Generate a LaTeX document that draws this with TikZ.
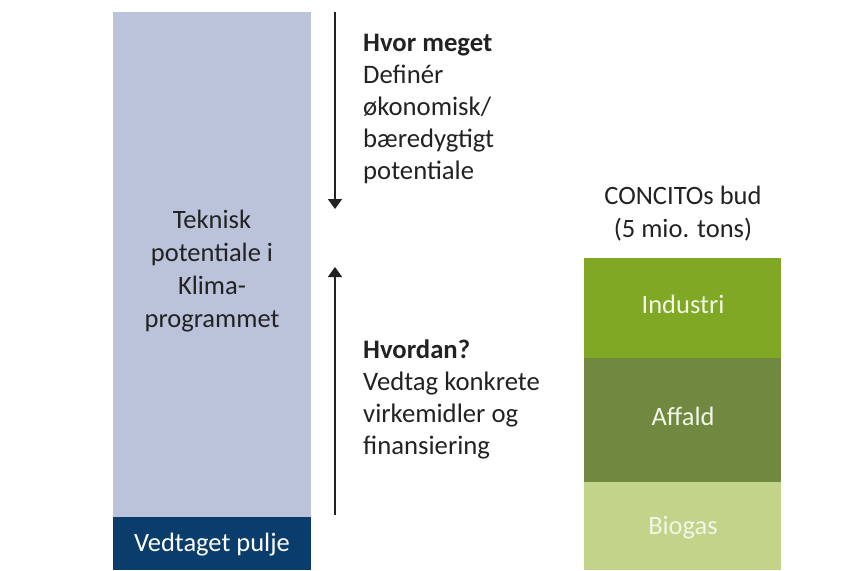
\documentclass[tikz,border=0pt]{standalone}
\usepackage{fontspec}
\setmainfont{Carlito}
\usetikzlibrary{arrows.meta}
\definecolor{lightblue}{HTML}{BAC3DA}
\definecolor{navy}{HTML}{0B3D6C}
\definecolor{indgreen}{HTML}{80A824}
\definecolor{affgreen}{HTML}{70883F}
\definecolor{biogreen}{HTML}{C1D48A}
\definecolor{txt}{HTML}{222222}
\definecolor{paletxt}{HTML}{F2F6E6}
\tikzset{
  bar/.style={inner sep=0pt, outer sep=0pt, anchor=north west},
  lbl/.style={font=\fontsize{26.5}{33}\selectfont, align=center, inner sep=0pt},
  side/.style={font=\fontsize{26.7}{32}\selectfont, align=left, inner sep=0pt, anchor=west, text=txt},
  flow/.style={line width=1.8pt, draw=txt, -{Triangle[width=14pt,length=10pt]}}
}
\begin{document}
\begin{tikzpicture}[x=1pt,y=-1pt]
\useasboundingbox (0,0) rectangle (853,570);
% left column
\node[bar, fill=lightblue, minimum width=198pt, minimum height=505pt] (tek) at (113,12) {};
\node[bar, fill=navy, minimum width=198pt, minimum height=53pt] (pulje) at (113,517) {};
\node[lbl, text=txt] (tektxt) at (212,271) {Teknisk\\potentiale i\\Klima-\\programmet};
\node[lbl, text=white, anchor=center] (puljetxt) at (212,545) {Vedtaget pulje};
% arrows
\coordinate (d1) at (335,12);
\coordinate (d2) at (335,209);
\coordinate (u1) at (335,515);
\coordinate (u2) at (335,267);
\draw[flow] (d1) -- (d2);
\draw[flow] (u1) -- (u2);
% side texts
\node[side] (hvor) at (363,109) {\textbf{Hvor meget}\\Definér\\økonomisk/\\bæredygtigt\\potentiale};
\node[side] (hvordan) at (363,399) {\textbf{Hvordan?}\\Vedtag konkrete\\virkemidler og\\finansiering};
% right column
\node[lbl, text=txt] (bud) at (683,214) {CONCITOs bud\\(5 mio. tons)};
\node[bar, fill=indgreen, minimum width=197pt, minimum height=100pt] (ind) at (584,258) {};
\node[bar, fill=affgreen, minimum width=197pt, minimum height=124pt] (aff) at (584,358) {};
\node[bar, fill=biogreen, minimum width=197pt, minimum height=88pt] (bio) at (584,482) {};
\node[lbl, text=paletxt] (indtxt) at (683,304) {Industri};
\node[lbl, text=paletxt] (afftxt) at (683,416) {Affald};
\node[lbl, text=paletxt] (biotxt) at (683,528) {Biogas};
\end{tikzpicture}
\end{document}
